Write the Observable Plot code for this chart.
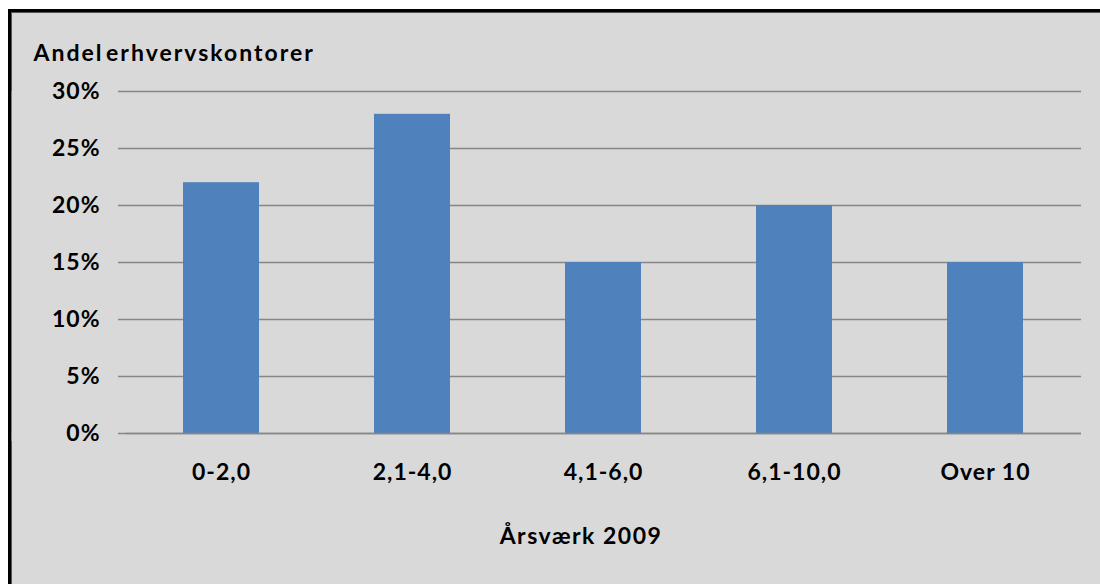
<!DOCTYPE html>
<html>
<head>
<meta charset="utf-8">
<script src="https://cdn.jsdelivr.net/npm/d3@7"></script>
<script src="https://cdn.jsdelivr.net/npm/@observablehq/plot@0.6"></script>
<style>
  html, body { margin: 0; padding: 0; background: #ffffff; }
  #chart {
    position: absolute;
    left: 8px;
    top: 9px;
    width: 1089px;
    height: 572px;
    background: #d9d9d9;
    border-left: 3px solid #000000;
    border-top: 3px solid #000000;
    box-shadow: inset 1px 1px 0 #555555;
  }
  #chart svg { display: block; background: transparent; }
  #chart svg text { letter-spacing: 1px; }
</style>
</head>
<body>
<div id="chart"></div>
<script>
// Share of business offices by man-years (Årsværk) in 2009
const categories = ["0-2,0", "2,1-4,0", "4,1-6,0", "6,1-10,0", "Over 10"];
const shares = [0.22, 0.28, 0.15, 0.20, 0.15];
const yTicks = [0, 0.05, 0.10, 0.15, 0.20, 0.25, 0.30];
const yTitle = "Andel erhvervskontorer";
const xTitle = "Årsværk 2009";

const data = categories.map((c, i) => ({category: c, share: shares[i]}));

const gridColor = "#868686";
const font = "Lato, 'Open Sans', sans-serif";

// Category boundary ticks below the baseline and the vertical value axis line
function frameLines(index, scales) {
  const {x, y} = scales;
  const bw = x.bandwidth;
  const step = x(categories[1]) - x(categories[0]);
  const g = d3.create("svg:g").attr("stroke", gridColor).attr("stroke-width", 1.5);
  const y0 = y(0);
  const edges = categories.map((c) => x(c) + bw / 2 - step / 2);
  edges.push(x(categories[categories.length - 1]) + bw / 2 + step / 2);
  for (const e of edges) {
    g.append("line").attr("x1", e).attr("x2", e).attr("y1", y0).attr("y2", y0 + 8);
  }
  g.append("line").attr("x1", edges[0]).attr("x2", edges[0])
    .attr("y1", y(yTicks[yTicks.length - 1])).attr("y2", y0);
  return g.node();
}

const chart = Plot.plot({
  width: 1089,
  height: 572,
  marginLeft: 115,
  marginRight: 19,
  marginTop: 79,
  marginBottom: 151,
  style: {fontFamily: font, fontSize: "23px", fontWeight: "bold", color: "#000", background: "transparent"},
  x: {domain: categories, paddingInner: 0.6, paddingOuter: 0.3, label: null},
  y: {domain: [0, 0.30], label: null},
  marks: [
    Plot.ruleY(yTicks, {stroke: gridColor, strokeWidth: 1.5}),
    Plot.barY(data, {x: "category", y: "share", fill: "#4f81bd"}),
    Plot.ruleY(yTicks, {stroke: gridColor, strokeWidth: 1.5, filter: (d) => d === 0}),
    frameLines,
    Plot.axisY({
      ticks: yTicks,
      tickFormat: d3.format(".0%"),
      tickSize: 8,
      tickPadding: 18,
      stroke: gridColor,
      strokeWidth: 1.5,
      strokeOpacity: 1,
      fill: "#000",
      label: null
    }),
    Plot.axisX({
      tickSize: 0,
      tickPadding: 30,
      fill: "#000",
      label: null
    }),
    Plot.text([yTitle], {
      frameAnchor: "top-left",
      textAnchor: "start",
      dx: -93,
      dy: -47,
      fill: "#000",
      fontSize: 23,
      fontWeight: "bold"
    }),
    Plot.text([xTitle], {
      frameAnchor: "bottom",
      dx: -23,
      dy: 110,
      fill: "#000",
      fontSize: 23,
      fontWeight: "bold"
    })
  ]
});

// Wider tracking on the two titles
d3.select(chart).selectAll("text")
  .filter(function () { return this.textContent === yTitle; })
  .style("letter-spacing", "2px")
  .style("word-spacing", "-5px");
d3.select(chart).selectAll("text")
  .filter(function () { return this.textContent === xTitle; })
  .style("letter-spacing", "1.5px");

document.getElementById("chart").appendChild(chart);
</script>
</body>
</html>
